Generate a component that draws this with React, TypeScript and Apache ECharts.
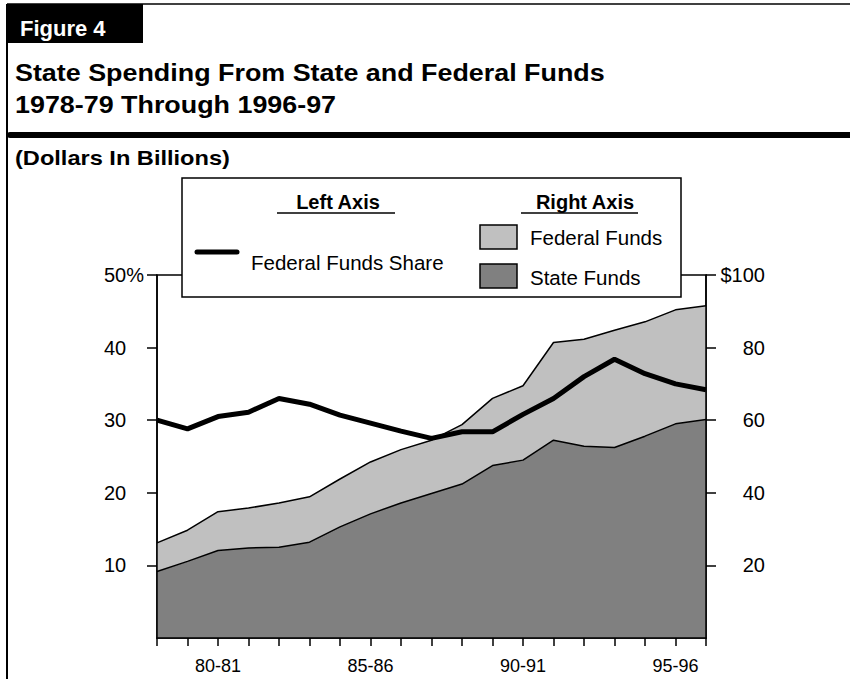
import React, { useEffect, useRef } from "react";
import * as echarts from "echarts";

const years = ["78-79", "79-80", "80-81", "81-82", "82-83", "83-84", "84-85", "85-86", "86-87", "87-88", "88-89", "89-90", "90-91", "91-92", "92-93", "93-94", "94-95", "95-96", "96-97"];
const labeledYears = ["80-81", "85-86", "90-91", "95-96"];
// Right axis, $ billions
const stateFunds = [18.3, 21.1, 24.1, 24.8, 25.0, 26.4, 30.6, 34.2, 37.2, 39.8, 42.4, 47.5, 49.0, 54.5, 52.8, 52.5, 55.6, 59.0, 60.2];
const federalFunds = [7.9, 8.6, 10.7, 11.0, 12.2, 12.5, 13.2, 14.3, 14.7, 14.7, 16.4, 18.5, 20.5, 26.9, 29.5, 32.3, 31.5, 31.4, 31.3];
// Left axis, percent
const federalShare = [30.0, 28.8, 30.5, 31.1, 33.0, 32.2, 30.7, 29.6, 28.5, 27.5, 28.4, 28.4, 30.8, 33.0, 36.0, 38.4, 36.4, 35.0, 34.2];
const leftTicks = [10, 20, 30, 40, 50];
const rightTicks = [20, 40, 60, 80, 100];

const FONT = "'Liberation Sans', Arial, Helvetica, sans-serif";

export default function App() {
  const ref = useRef<HTMLDivElement>(null);
  useEffect(() => {
    if (!ref.current) return;
    const chart = echarts.init(ref.current, null, { renderer: "svg" });
    const txt = (text: string, x: number, y: number, size: number, bold: boolean, extra: any = {}) => ({
      type: "text",
      x,
      y,
      z: 120,
      ...extra,
      style: {
        text,
        fill: extra.fill || "#000",
        font: `${bold ? "bold " : ""}${size}px ${FONT}`,
        align: extra.align || "left",
        verticalAlign: "middle",
        textAlign: extra.align || "left",
        textVerticalAlign: "middle",
      },
    });
    chart.setOption({
      animation: false,
      backgroundColor: "#fff",
      textStyle: { fontFamily: FONT, color: "#000" },
      grid: { left: 157, right: 144, top: 275, bottom: 41, show: true, borderColor: "#000", borderWidth: 1.5, backgroundColor: "transparent" },
      xAxis: {
        type: "category",
        data: years,
        boundaryGap: false,
        z: 10,
        axisLine: { lineStyle: { color: "#000", width: 1.5 } },
        axisTick: { show: true, interval: 0, length: 8, lineStyle: { color: "#000", width: 1.5 } },
        axisLabel: {
          interval: (_i: number, v: string) => labeledYears.includes(v),
          color: "#000",
          fontSize: 18,
          fontFamily: FONT,
          margin: 19,
        },
        splitLine: { show: false },
      },
      yAxis: [
        {
          type: "value",
          min: 0,
          max: 50,
          interval: 10,
          position: "left",
          z: 10,
          axisLine: { show: true, lineStyle: { color: "#000", width: 1.5 } },
          axisTick: { show: true, length: 10, customValues: leftTicks, lineStyle: { color: "#000", width: 1.5 } },
          axisLabel: {
            customValues: leftTicks,
            formatter: (v: number) => (v === 50 ? "50%" : String(v)),
            color: "#000",
            fontSize: 20,
            fontFamily: FONT,
            align: "left",
            margin: 53,
          },
          splitLine: { show: false },
        },
        {
          type: "value",
          min: 0,
          max: 100,
          interval: 20,
          position: "right",
          z: 10,
          axisLine: { show: true, lineStyle: { color: "#000", width: 1.5 } },
          axisTick: { show: true, length: 10, customValues: rightTicks, lineStyle: { color: "#000", width: 1.5 } },
          axisLabel: {
            customValues: rightTicks,
            formatter: (v: number) => (v === 100 ? "$100" : String(v)),
            color: "#000",
            fontSize: 20,
            fontFamily: FONT,
            align: "right",
            margin: 59,
          },
          splitLine: { show: false },
        },
      ],
      series: [
        {
          name: "State Funds",
          type: "line",
          yAxisIndex: 1,
          stack: "funds",
          data: stateFunds,
          symbol: "none",
          lineStyle: { color: "#000", width: 1.5 },
          areaStyle: { color: "#808080", opacity: 1 },
          z: 2,
        },
        {
          name: "Federal Funds",
          type: "line",
          yAxisIndex: 1,
          stack: "funds",
          data: federalFunds,
          symbol: "none",
          lineStyle: { color: "#000", width: 1.5 },
          areaStyle: { color: "#c0c0c0", opacity: 1 },
          z: 2,
        },
        {
          name: "Federal Funds Share",
          type: "line",
          yAxisIndex: 0,
          data: federalShare,
          symbol: "none",
          lineStyle: { color: "#000", width: 5 },
          z: 5,
        },
      ],
      graphic: [
        // frame
        { type: "line", z: 100, shape: { x1: 7, y1: 4, x2: 850, y2: 4 }, style: { stroke: "#000", lineWidth: 1.5 } },
        { type: "line", z: 100, shape: { x1: 7, y1: 4, x2: 7, y2: 679 }, style: { stroke: "#000", lineWidth: 2 } },
        { type: "rect", z: 100, shape: { x: 7, y: 4, width: 136, height: 39 }, style: { fill: "#000" } },
        txt("Figure 4", 20, 28, 22, true, { fill: "#fff" }),
        txt("State Spending From State and Federal Funds", 15, 73, 24, true, { scaleX: 1.12 }),
        txt("1978-79 Through 1996-97", 15, 105, 24, true, { scaleX: 1.12 }),
        { type: "line", z: 100, shape: { x1: 10, y1: 135, x2: 856, y2: 135 }, style: { stroke: "#000", lineWidth: 6, lineCap: "round" } },
        txt("(Dollars In Billions)", 15, 158, 20, true, { scaleX: 1.18 }),
        // legend box
        { type: "rect", z: 110, shape: { x: 182, y: 178, width: 499, height: 119 }, style: { fill: "#fff", stroke: "#000", lineWidth: 1.5 } },
        txt("Left Axis", 338, 202, 20, true, { align: "center" }),
        { type: "line", z: 120, shape: { x1: 277, y1: 213, x2: 395, y2: 213 }, style: { stroke: "#000", lineWidth: 1.5 } },
        txt("Right Axis", 585, 202, 20, true, { align: "center" }),
        { type: "line", z: 120, shape: { x1: 521, y1: 213, x2: 638, y2: 213 }, style: { stroke: "#000", lineWidth: 1.5 } },
        { type: "line", z: 120, shape: { x1: 197, y1: 252, x2: 237, y2: 252 }, style: { stroke: "#000", lineWidth: 5, lineCap: "round" } },
        txt("Federal Funds Share", 251, 262, 20.5, false),
        { type: "rect", z: 120, shape: { x: 480, y: 225, width: 37, height: 24 }, style: { fill: "#c0c0c0", stroke: "#000", lineWidth: 1.5 } },
        txt("Federal Funds", 530, 237, 20.5, false),
        { type: "rect", z: 120, shape: { x: 480, y: 264, width: 37, height: 24 }, style: { fill: "#808080", stroke: "#000", lineWidth: 1.5 } },
        txt("State Funds", 530, 277, 20.5, false),
      ],
    });
    return () => chart.dispose();
  }, []);
  return <div ref={ref} style={{ position: "absolute", left: 0, top: 0, width: 850, height: 679, background: "#fff" }} />;
}
